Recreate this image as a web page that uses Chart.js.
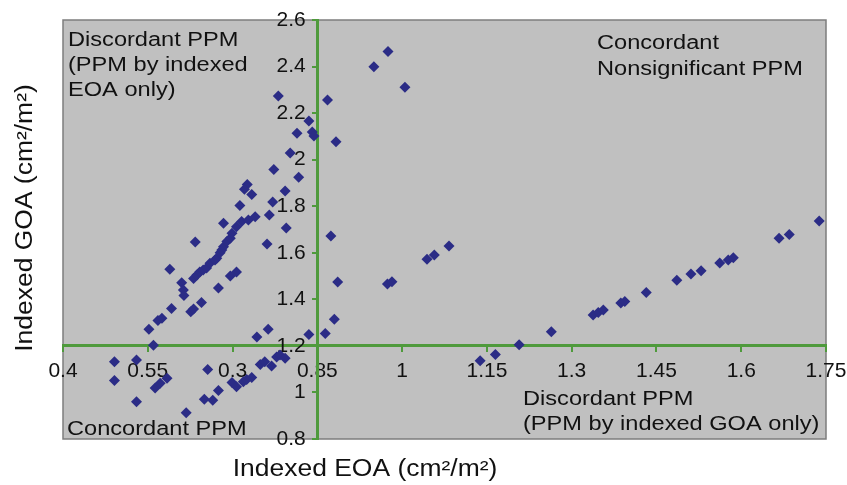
<!DOCTYPE html>
<html>
<head>
<meta charset="utf-8">
<script src="https://cdn.jsdelivr.net/npm/chart.js@4.4.1/dist/chart.umd.min.js"></script>
<style>
  html, body { margin: 0; padding: 0; background: #fff; }
  #wrap { width: 847px; height: 485px; }
</style>
</head>
<body>
<div id="wrap"><canvas id="chart" width="847" height="485"></canvas></div>
<script>
// Indexed EOA (x) and indexed GOA (y) per patient
const eoaValues = [
  0.560, 0.552, 0.568, 0.575, 0.592, 0.589, 0.610, 0.613, 0.614, 0.626,
  0.631, 0.645, 0.631, 0.637, 0.642, 0.648, 0.654, 0.660, 0.669, 0.672,
  0.678, 0.681, 0.684, 0.690, 0.696, 0.699, 0.707, 0.716, 0.728, 0.740,
  0.684, 0.634, 0.696, 0.707, 0.675, 0.765, 0.761, 0.795, 0.713, 0.771,
  0.726, 0.721, 0.734, 0.793, 0.773, 0.817, 0.802, 0.781, 0.814, 0.835,
  0.841, 0.844, 0.868, 0.883, 0.874, 0.950, 0.975, 1.005, 0.886, 0.880,
  0.864, 0.835, 0.974, 0.982, 1.044, 1.057, 1.083, 1.138, 1.165, 1.207,
  1.264, 1.338, 1.347, 1.356, 1.387, 1.394, 1.432, 1.486, 1.511, 1.529,
  1.562, 1.577, 1.586, 1.667, 1.685, 1.738, 0.743, 0.763, 0.491, 0.491,
  0.530, 0.530, 0.563, 0.572, 0.584, 0.618, 0.656, 0.650, 0.665, 0.675,
  0.699, 0.707, 0.719, 0.734, 0.749, 0.757, 0.769, 0.778, 0.784, 0.793,
  0.725
];
const goaValues = [
  1.203, 1.271, 1.309, 1.319, 1.361, 1.529, 1.471, 1.440, 1.416, 1.347,
  1.358, 1.386, 1.490, 1.505, 1.517, 1.526, 1.535, 1.555, 1.569, 1.576,
  1.600, 1.612, 1.626, 1.648, 1.662, 1.684, 1.712, 1.734, 1.741, 1.755,
  1.727, 1.646, 1.500, 1.517, 1.449, 1.762, 1.638, 1.706, 1.803, 1.818,
  1.893, 1.873, 1.850, 1.865, 1.958, 1.924, 2.029, 2.274, 2.113, 2.166,
  2.119, 2.102, 2.256, 2.077, 1.672, 2.399, 2.465, 2.311, 1.474, 1.314,
  1.253, 1.249, 1.466, 1.476, 1.572, 1.590, 1.629, 1.136, 1.163, 1.205,
  1.261, 1.333, 1.343, 1.354, 1.384, 1.391, 1.429, 1.482, 1.509, 1.523,
  1.556, 1.569, 1.579, 1.662, 1.679, 1.737, 1.238, 1.271, 1.132, 1.051,
  1.139, 0.960, 1.019, 1.039, 1.061, 0.913, 1.099, 0.971, 0.966, 1.008,
  1.043, 1.025, 1.046, 1.064, 1.120, 1.132, 1.114, 1.152, 1.161, 1.147,
  1.056
];

// axis ticks (the figure labels 0.7 as "0.3")
const xTickValues = [0.4, 0.55, 0.7, 0.85, 1, 1.15, 1.3, 1.45, 1.6, 1.75];
const xTickLabels = ["0.4", "0.55", "0.3", "0.85", "1", "1.15", "1.3", "1.45", "1.6", "1.75"];
const yTickValues = [0.8, 1, 1.2, 1.4, 1.6, 1.8, 2, 2.2, 2.4, 2.6];
const yTickLabels = ["0.8", "1", "1.2", "1.4", "1.6", "1.8", "2", "2.2", "2.4", "2.6"];

// thresholds where the axes cross
const eoaCut = 0.85;
const goaCut = 1.2;

const green = "#4f9a3c";
const textFont = '"Liberation Sans", Arial, sans-serif';

function wideText(ctx, text, x, y, sx) {
  ctx.save();
  ctx.translate(x, y);
  ctx.scale(sx, 1);
  ctx.fillText(text, 0, 0);
  ctx.restore();
}

const plotBackground = {
  id: "plotBackground",
  beforeDraw(chart) {
    const { ctx, chartArea: a } = chart;
    ctx.save();
    ctx.fillStyle = "#c0c0c0";
    ctx.fillRect(a.left, a.top, a.width, a.height);
    ctx.strokeStyle = "#7d7d7d";
    ctx.lineWidth = 1.5;
    ctx.strokeRect(a.left, a.top, a.width, a.height);
    ctx.restore();
  }
};

// quadrant notes and axis titles
const notes = {
  id: "notes",
  beforeDatasetsDraw(chart) {
    const ctx = chart.ctx;
    ctx.save();
    ctx.fillStyle = "#111";
    ctx.textAlign = "left";
    ctx.textBaseline = "alphabetic";
    ctx.font = "20px " + textFont;
    const sx = 1.18;
    wideText(ctx, "Discordant PPM", 68, 46, sx);
    wideText(ctx, "(PPM by indexed", 68, 71, sx);
    wideText(ctx, "EOA only)", 68, 96, sx);
    wideText(ctx, "Concordant", 597, 49, sx);
    wideText(ctx, "Nonsignificant PPM", 597, 75, sx);
    wideText(ctx, "Concordant PPM", 67, 435, sx);
    wideText(ctx, "Discordant PPM", 523, 405, sx);
    wideText(ctx, "(PPM by indexed GOA only)", 523, 430, sx);

    ctx.font = "23px " + textFont;
    ctx.textAlign = "center";
    ctx.textBaseline = "middle";
    wideText(ctx, "Indexed EOA (cm²/m²)", 365, 470, 1.15);
    ctx.translate(26, 218);
    ctx.rotate(-Math.PI / 2);
    wideText(ctx, "Indexed GOA (cm²/m²)", 0, 0, 1.15);
    ctx.restore();
  }
};

new Chart(document.getElementById("chart"), {
  type: "scatter",
  data: {
    datasets: [{
      data: eoaValues.map((x, i) => ({ x: x, y: goaValues[i] })),
      pointStyle: "rectRot",
      pointRadius: 5.5,
      backgroundColor: "#2b2c86",
      borderColor: "#2b2c86",
      borderWidth: 0
    }]
  },
  options: {
    responsive: false,
    animation: false,
    layout: { padding: { left: 63, top: 20, right: 21, bottom: 46 } },
    plugins: { legend: { display: false }, tooltip: { enabled: false } },
    scales: {
      x: {
        type: "linear",
        min: 0.4,
        max: 1.75,
        position: { y: goaCut },
        afterBuildTicks: axis => { axis.ticks = xTickValues.map(v => ({ value: v })); },
        // the end labels may run past the plot, as in the original
        afterFit: scale => { scale.paddingLeft = 0; scale.paddingRight = 0; },
        ticks: {
          autoSkip: false,
          maxRotation: 0,
          padding: 8,
          color: "#111",
          font: { family: textFont, size: 21 },
          callback: (v, i) => xTickLabels[i]
        },
        grid: { drawOnChartArea: false, drawTicks: true, tickLength: 5, color: green, lineWidth: 2 },
        border: { color: green, width: 3 }
      },
      y: {
        type: "linear",
        min: 0.8,
        max: 2.6,
        position: { x: eoaCut },
        afterBuildTicks: axis => { axis.ticks = yTickValues.map(v => ({ value: v })); },
        afterFit: scale => { scale.paddingTop = 0; scale.paddingBottom = 0; },
        ticks: {
          autoSkip: false,
          padding: 8,
          color: "#111",
          font: { family: textFont, size: 21 },
          // trailing spaces keep the right-aligned labels clear of the green line
          callback: (v, i) => yTickLabels[i] + "  "
        },
        grid: { drawOnChartArea: false, drawTicks: true, tickLength: 4, color: green, lineWidth: 2 },
        border: { color: green, width: 3 }
      }
    }
  },
  plugins: [plotBackground, notes]
});
</script>
</body>
</html>
